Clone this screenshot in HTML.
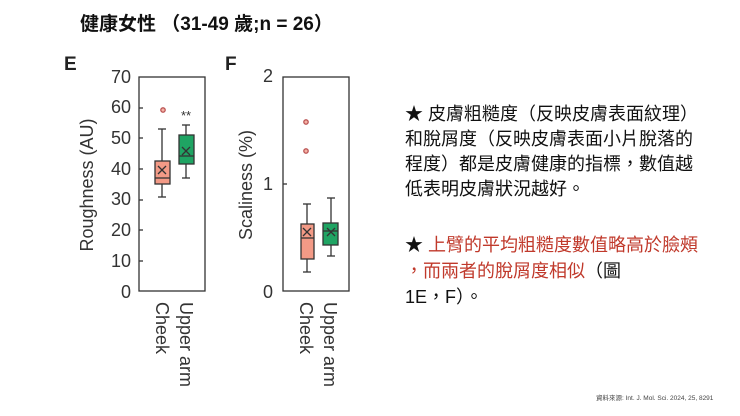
<!DOCTYPE html>
<html><head><meta charset="utf-8"><style>
body{margin:0;width:740px;height:416px;background:#fff;overflow:hidden;position:relative;font-family:"Liberation Sans","Noto Sans CJK TC",sans-serif}
.t{position:absolute;left:405px;font-size:18px;line-height:25px;color:#111;white-space:nowrap}
</style></head><body>
<div style="position:absolute;left:80px;top:9px;font-size:19px;font-weight:bold;color:#111">健康女性 （31-49 歲;n = 26）</div>
<svg width="740" height="416" style="position:absolute;left:0;top:0" font-family="Liberation Sans, Arial, sans-serif">
<g fill="#222" font-size="19">
<text x="64" y="70" font-weight="bold">E</text>
<text x="225" y="70" font-weight="bold">F</text>
</g>
<g fill="#333" font-size="18" text-anchor="end">
<text x="131" y="83">70</text><text x="131" y="113">60</text><text x="131" y="144">50</text>
<text x="131" y="175">40</text><text x="131" y="205">30</text><text x="131" y="236">20</text>
<text x="131" y="267">10</text><text x="131" y="298">0</text>
<text x="273" y="82">2</text><text x="273" y="190">1</text><text x="273" y="298">0</text>
</g>
<text transform="translate(93,185) rotate(-90)" text-anchor="middle" font-size="18" fill="#333">Roughness (AU)</text>
<text transform="translate(252,185) rotate(-90)" text-anchor="middle" font-size="18" fill="#333">Scaliness (%)</text>
<g font-size="18" fill="#333">
<text transform="translate(156,302) rotate(90)">Cheek</text>
<text transform="translate(180,302) rotate(90)">Upper arm</text>
<text transform="translate(300,302) rotate(90)">Cheek</text>
<text transform="translate(324,302) rotate(90)">Upper arm</text>
</g>
<g stroke="#333" stroke-width="1.3" fill="none">
<rect x="139" y="77" width="66" height="214"/>
<rect x="283" y="77" width="66" height="214"/>
<line x1="139" y1="108" x2="143" y2="108"/><line x1="139" y1="138" x2="143" y2="138"/>
<line x1="139" y1="169" x2="143" y2="169"/><line x1="139" y1="200" x2="143" y2="200"/>
<line x1="139" y1="230" x2="143" y2="230"/><line x1="139" y1="261" x2="143" y2="261"/>
<line x1="283" y1="184" x2="287" y2="184"/>
<line x1="162" y1="197" x2="162" y2="129"/><line x1="158" y1="197" x2="166" y2="197"/><line x1="158" y1="129" x2="166" y2="129"/>
<rect x="155" y="161" width="15" height="23" fill="#f39a86"/>
<line x1="155" y1="178" x2="170" y2="178"/>
<path d="M158 166l8 8M166 166l-8 8"/>
<circle cx="163" cy="110" r="2.2" fill="#f5b2a5" stroke="#b55"/>
<line x1="186" y1="178" x2="186" y2="125"/><line x1="182" y1="178" x2="190" y2="178"/><line x1="182" y1="125" x2="190" y2="125"/>
<rect x="179" y="135" width="15" height="29" fill="#1fa463"/>
<line x1="179" y1="156" x2="194" y2="156"/>
<path d="M182 147l8 8M190 147l-8 8"/>
<line x1="307" y1="204" x2="307" y2="272"/><line x1="303" y1="204" x2="311" y2="204"/><line x1="303" y1="272" x2="311" y2="272"/>
<rect x="301" y="224" width="13" height="35" fill="#f39a86"/>
<line x1="301" y1="238" x2="314" y2="238"/>
<path d="M303 228l8 8M311 228l-8 8"/>
<circle cx="306" cy="122" r="2.2" fill="#f5b2a5" stroke="#b55"/>
<circle cx="306" cy="151" r="2.2" fill="#f5b2a5" stroke="#b55"/>
<line x1="331" y1="198" x2="331" y2="256"/><line x1="327" y1="198" x2="335" y2="198"/><line x1="327" y1="256" x2="335" y2="256"/>
<rect x="323" y="223" width="15" height="22" fill="#1fa463"/>
<line x1="323" y1="231" x2="338" y2="231"/>
<path d="M327 228l8 8M335 228l-8 8"/>
</g>
<text x="186" y="120" text-anchor="middle" font-size="13" fill="#333">**</text>
</svg>
<div class="t" style="top:102px">★ 皮膚粗糙度（反映皮膚表面紋理）<br>和脫屑度（反映皮膚表面小片脫落的<br>程度）都是皮膚健康的指標，數值越<br>低表明皮膚狀況越好。</div>
<div class="t" style="top:232px;line-height:26px"><span style="color:#111">★ </span><span style="color:#c0392b">上臂的平均粗糙度數值略高於臉頰<br>，而兩者的脫屑度相似</span>（圖<br>1E，F）。</div>
<div style="position:absolute;left:596px;top:392px;font-size:6.5px;color:#444">資料來源: Int. J. Mol. Sci. 2024, 25, 8291</div>
</body></html>
